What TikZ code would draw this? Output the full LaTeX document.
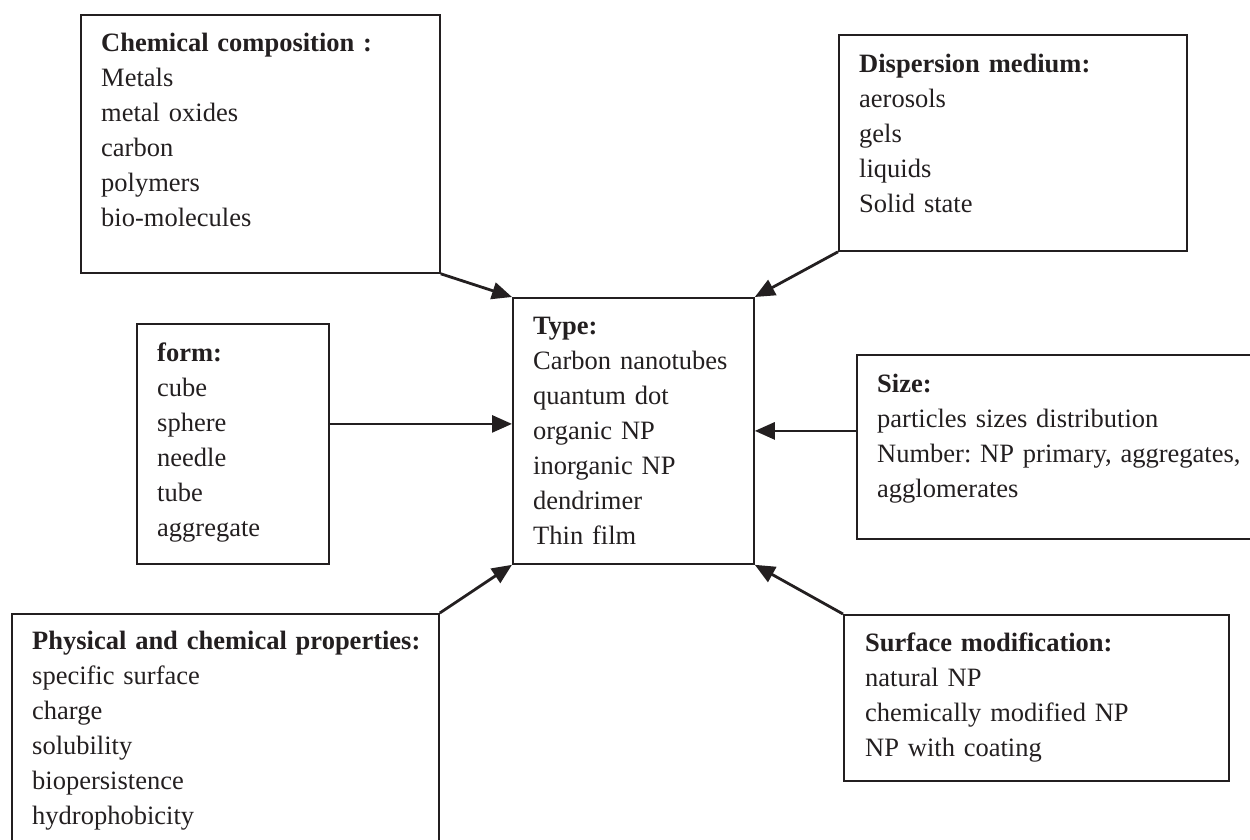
\documentclass[tikz,border=0pt]{standalone}
\usepackage{fontspec}
\setmainfont{Liberation Serif}
\usetikzlibrary{arrows.meta}
\definecolor{ink}{HTML}{231F20}
\tikzset{
    box/.style={draw=ink, line width=1.8pt, inner sep=0pt, anchor=north west},
    txt/.style={anchor=base west, inner sep=0pt, text width=480pt, align=left,
        text=ink, font=\fontsize{26.5}{35}\selectfont\frenchspacing},
    arr/.style={draw=ink, line width=2.8pt, -{Triangle[length=20pt,width=17pt]}}
}
\begin{document}
\begin{tikzpicture}[x=1pt, y=-1pt]
    \path[use as bounding box, clip] (0,0) rectangle (1250,839);
    \node[box, minimum width=359pt, minimum height=258pt] (chem) at (80,14) {};
    \node[box, minimum width=348pt, minimum height=216pt] (disp) at (838,34) {};
    \node[box, minimum width=192pt, minimum height=240pt] (form) at (136,323) {};
    \node[box, minimum width=241pt, minimum height=266pt] (type) at (512,297) {};
    \node[box, minimum width=434pt, minimum height=184pt] (size) at (856,354) {};
    \node[box, minimum width=427pt, minimum height=267pt] (phys) at (11,613) {};
    \node[box, minimum width=385pt, minimum height=166pt] (surf) at (843,614) {};
    \node[txt] (chemtxt) at (101,51) {\textbf{Chemical composition :}\\
        Metals\\ metal oxides\\ carbon\\ polymers\\ bio-molecules};
    \node[txt] (disptxt) at (859,72) {\textbf{Dispersion medium:}\\
        aerosols\\ gels\\ liquids\\ Solid state};
    \node[txt] (formtxt) at (157,361) {\textbf{form:}\\
        cube\\ sphere\\ needle\\ tube\\ aggregate};
    \node[txt] (typetxt) at (533,334) {\textbf{Type:}\\
        Carbon nanotubes\\ quantum dot\\ organic NP\\ inorganic NP\\ dendrimer\\ Thin film};
    \node[txt] (sizetxt) at (877,392) {\textbf{Size:}\\
        particles sizes distribution\\ Number: NP primary, aggregates,\\ agglomerates};
    \node[txt] (phystxt) at (32,649) {\textbf{Physical and chemical properties:}\\
        specific surface\\ charge\\ solubility\\ biopersistence\\ hydrophobicity};
    \node[txt] (surftxt) at (865,651) {\textbf{Surface modification:}\\
        natural NP\\ chemically modified NP\\ NP with coating};
    \draw[arr] (chem.south east) -- (type.north west);
    \draw[arr] (disp.south west) -- (type.north east);
    \draw[arr] ([yshift=20pt]form.east) -- ([yshift=20pt]form.east -| type.west);
    \draw[arr] (type.east -| size.west) -- (type.east);
    \draw[arr] (phys.north east) -- (type.south west);
    \draw[arr] (surf.north west) -- (type.south east);
\end{tikzpicture}
\end{document}
